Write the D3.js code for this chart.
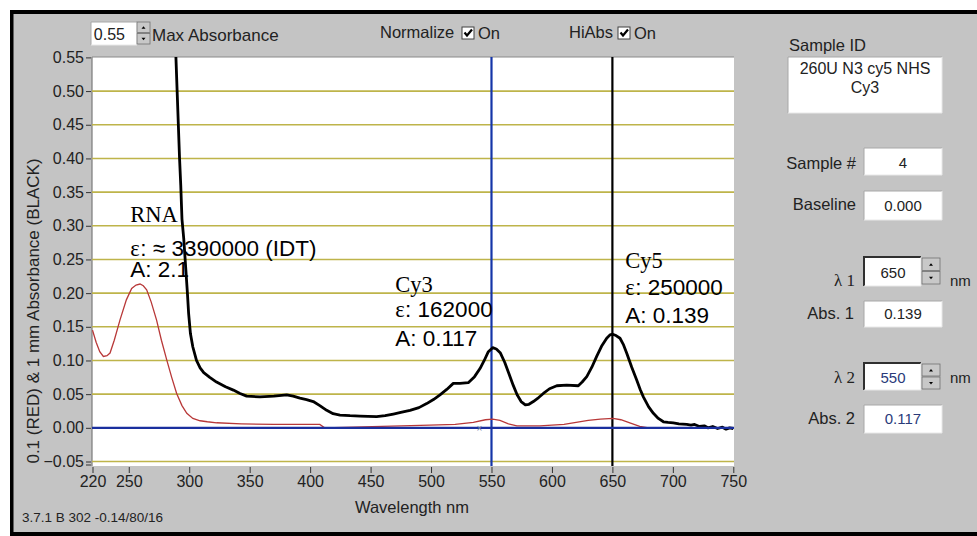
<!DOCTYPE html>
<html><head><meta charset="utf-8">
<script src="https://cdn.jsdelivr.net/npm/d3@7"></script>
<style>
html,body{margin:0;padding:0;background:#fff;}
</style></head>
<body>
<script>
// ---------- data ----------
const xTicks = [220,250,300,350,400,450,500,550,600,650,700,750];
const yTicks = [-0.05,0,0.05,0.10,0.15,0.20,0.25,0.30,0.35,0.40,0.45,0.50,0.55];
const gridValues = [-0.05,0.05,0.10,0.15,0.20,0.25,0.30,0.35,0.40,0.45,0.50];

// 1 mm absorbance (black)
const blackWl  = [288,289,290,291,292,293,294,295.5,297,298.5,299.5,301,303,306,309,312,317,322.6,330,336.5,342,347.5,358.5,370,380.6,386,391.6,397,402.6,408,413.7,419,424.7,433,441.3,448,455,462,468.8,475,482.6,490,496.4,502,507.4,513,518.4,524,530.8,536,540.5,544,547.4,551,554,557.4,561,564.3,568,571.2,574.5,578,581,584.6,589,592.9,598,604,612.2,621.8,625,628.8,633,637,641,645.3,648,650.2,653,656.3,659,661.8,666,670.1,673,675.6,680,683.9,688,692.2,696,700.4,705,711.5,715,718,722,726,729,733,737,741,744,747,750];
const blackAbs = [0.62,0.55,0.50,0.45,0.40,0.36,0.31,0.28,0.24,0.20,0.17,0.14,0.12,0.10,0.089,0.082,0.075,0.068,0.061,0.056,0.051,0.047,0.046,0.047,0.049,0.047,0.044,0.042,0.039,0.033,0.026,0.021,0.019,0.018,0.0175,0.017,0.0165,0.018,0.0205,0.023,0.026,0.030,0.036,0.042,0.049,0.057,0.066,0.066,0.067,0.076,0.088,0.100,0.113,0.119,0.117,0.111,0.097,0.081,0.063,0.049,0.039,0.034,0.035,0.039,0.045,0.051,0.058,0.0625,0.0635,0.0625,0.068,0.076,0.090,0.106,0.121,0.133,0.138,0.139,0.137,0.133,0.124,0.111,0.090,0.071,0.057,0.046,0.031,0.0215,0.014,0.009,0.008,0.0075,0.006,0.005,0.004,0.005,0.002,0.003,0.0,0.002,-0.001,0.001,-0.002,0.0,-0.001];

// 0.1 mm absorbance (red)
const redWl  = [220,223,226,229,232,234.5,238,242.7,248,252.4,256,259.3,262,264.8,268.5,273,277,281.4,285.5,289.6,294,298,303,309,315,322.7,343,370,390,408,412,499,520,535,545,551,557,564,571,590,610,620,630,640,650.5,657,665,672.6,680];
const redAbs = [0.145,0.127,0.113,0.106,0.107,0.111,0.13,0.160,0.190,0.207,0.212,0.2135,0.211,0.205,0.187,0.160,0.130,0.101,0.075,0.051,0.033,0.0215,0.014,0.0105,0.009,0.0075,0.006,0.005,0.005,0.005,0.0,0.004,0.005,0.008,0.012,0.013,0.011,0.006,0.003,0.003,0.005,0.008,0.011,0.013,0.014,0.012,0.007,0.002,0.0];

const cursorWl = [550, 650];
const annoNames = ["RNA","Cy3","Cy5"];
const annoEps   = ["≈ 3390000 (IDT)","162000","250000"];
const annoA     = ["A: 2.1","A: 0.117","A: 0.139"];
const annoWl    = [251.3, 470.3, 660.6];
const annoLevels = [[0.306,0.255,0.224],[0.202,0.164,0.121],[0.238,0.197,0.156]];

// ---------- layout ----------
const SANS = "Liberation Sans, Arial, sans-serif";
const SERIF = "Liberation Serif, Times New Roman, serif";
const W = 977, H = 536;
const svg = d3.select("body").append("svg").attr("width",W).attr("height",H).style("font-family",SANS);
const x = d3.scaleLinear().domain([220,750]).range([92.5,733.3]);
const y = d3.scaleLinear().domain([-0.05,0.55]).range([461.5,57.4]);
const plot = {x0:92, x1:734, y0:57, y1:466};

// frame
svg.append("rect").attr("width",W).attr("height",H).attr("fill","#fff");
svg.append("rect").attr("x",10).attr("y",10).attr("width",W-10).attr("height",H-10).attr("fill","#c4c4c4");
svg.append("rect").attr("x",10).attr("y",10).attr("width",W-10).attr("height",4).attr("fill","#000");
svg.append("rect").attr("x",10).attr("y",10).attr("width",3.5).attr("height",H-10).attr("fill","#000");
svg.append("rect").attr("x",10).attr("y",532).attr("width",W-10).attr("height",4).attr("fill","#000");

// plot area
svg.append("rect").attr("x",plot.x0).attr("y",plot.y0).attr("width",plot.x1-plot.x0).attr("height",plot.y1-plot.y0)
  .attr("fill","#fff");
svg.append("line").attr("x1",plot.x0).attr("x2",plot.x0).attr("y1",plot.y0).attr("y2",plot.y1).attr("stroke","#7a7a7a").attr("stroke-width",1.2);
svg.append("line").attr("x1",plot.x0).attr("x2",plot.x1).attr("y1",plot.y0).attr("y2",plot.y0).attr("stroke","#8a8a8a").attr("stroke-width",1);

svg.append("defs").append("clipPath").attr("id","clip").append("rect")
  .attr("x",plot.x0).attr("y",plot.y0).attr("width",plot.x1-plot.x0).attr("height",plot.y1-plot.y0);
const g = svg.append("g").attr("clip-path","url(#clip)");

// grid
g.selectAll(".grid").data(gridValues).enter().append("line")
  .attr("x1",plot.x0).attr("x2",plot.x1).attr("y1",d=>y(d)).attr("y2",d=>y(d))
  .attr("stroke","#beb44a").attr("stroke-width",1.6);

// cursors
g.selectAll(".cur").data(cursorWl).enter().append("line")
  .attr("x1",d=>x(d)).attr("x2",d=>x(d)).attr("y1",plot.y0).attr("y2",plot.y1)
  .attr("stroke",(d,i)=>i===0?"#1535a8":"#000").attr("stroke-width",2.2);

// curves
const line = d3.line().x(d=>x(d[0])).y(d=>y(d[1])).curve(d3.curveLinear);
g.append("path").datum(redWl.map((w,i)=>[w,redAbs[i]])).attr("d",line)
  .attr("fill","none").attr("stroke","#b83838").attr("stroke-width",1.3);
g.append("path").datum(blackWl.map((w,i)=>[w,blackAbs[i]])).attr("d",line)
  .attr("fill","none").attr("stroke","#000").attr("stroke-width",2.8).attr("stroke-linejoin","round");
// baseline
g.append("line").attr("x1",plot.x0).attr("x2",plot.x1).attr("y1",y(0)).attr("y2",y(0))
  .attr("stroke","#1a2f9e").attr("stroke-width",2.4);
// small cross marker
g.append("text").attr("x",x(540)).attr("y",y(0)+4).attr("text-anchor","middle")
  .attr("font-size",10).attr("fill","#7080a8").text("×");

// axes
const yAxis = d3.axisLeft(y).tickValues(yTicks).tickFormat(d3.format(".2f")).tickSize(5).tickPadding(2);
const ya = svg.append("g").attr("transform","translate(91,0)").call(yAxis);
ya.select(".domain").remove();
ya.selectAll("text").attr("font-size",16).attr("fill","#222").attr("font-family",SANS);
ya.selectAll("line").attr("stroke","#333");
svg.append("line").attr("x1",86).attr("x2",91).attr("y1",465).attr("y2",465).attr("stroke","#333");

const xAxis = d3.axisBottom(x).tickValues(xTicks).tickFormat(d3.format("d")).tickSize(6).tickPadding(3);
const xa = svg.append("g").attr("transform",`translate(0,${plot.y1+1})`).call(xAxis);
xa.select(".domain").remove();
xa.selectAll("text").attr("font-size",16).attr("fill","#222").attr("font-family",SANS);
xa.selectAll("line").attr("stroke","#333");

svg.append("text").attr("x",412).attr("y",513).attr("text-anchor","middle").attr("font-size",16.5).attr("fill","#222")
  .text("Wavelength nm");
svg.append("text").attr("transform","translate(39,311) rotate(-90)").attr("text-anchor","middle")
  .attr("font-size",17).attr("fill","#222").text("0.1 (RED) & 1 mm Absorbance (BLACK)");
svg.append("text").attr("x",22).attr("y",522).attr("font-size",13.5).attr("fill","#222")
  .text("3.7.1 B 302 -0.14/80/16");

// annotations
annoNames.forEach((name,i)=>{
  const ax = x(annoWl[i]), lv = annoLevels[i];
  svg.append("text").attr("x",ax).attr("y",y(lv[0])).attr("font-family",SERIF)
    .attr("font-size",22.5).attr("fill","#000").text(name);
  const e = svg.append("text").attr("x",ax).attr("y",y(lv[1])).attr("font-family",SERIF)
    .attr("font-size",22.5).attr("fill","#000").text("ε");
  const ew = e.node().getComputedTextLength();
  svg.append("text").attr("x",ax+ew+0.5).attr("y",y(lv[1])).attr("font-family",SANS)
    .attr("font-size",22.5).attr("fill","#000").text(": "+annoEps[i]);
  svg.append("text").attr("x",ax).attr("y",y(lv[2])).attr("font-family",SANS)
    .attr("font-size",22.5).attr("fill","#000").text(annoA[i]);
});

// ---------- controls ----------
function sunkenBox(x0,y0,w,h,deep){
  svg.append("rect").attr("x",x0).attr("y",y0).attr("width",w).attr("height",h).attr("fill","#fff");
  svg.append("path").attr("d",`M${x0},${y0+h}V${y0}H${x0+w}`).attr("fill","none")
    .attr("stroke",deep?"#303030":"#a8a8a8").attr("stroke-width",deep?2:1);
  svg.append("path").attr("d",`M${x0},${y0+h}H${x0+w}V${y0}`).attr("fill","none")
    .attr("stroke","#e8e8e8").attr("stroke-width",1);
}
function spinner(x0,y0,w,h){
  const hh = h/2;
  [0,1].forEach(i=>{
    svg.append("rect").attr("x",x0).attr("y",y0+i*hh).attr("width",w).attr("height",hh-1)
      .attr("fill","#c8c8c8").attr("stroke","#707070").attr("stroke-width",0.8);
    const cx = x0+w/2, cy = y0+i*hh+hh/2;
    const p = i===0?`M${cx-2},${cy+1}L${cx+2},${cy+1}L${cx},${cy-1.5}Z`:`M${cx-2},${cy-1.5}L${cx+2},${cy-1.5}L${cx},${cy+1}Z`;
    svg.append("path").attr("d",p).attr("fill","#000");
  });
}
function label(tx,ty,txt,anchor,size,color,family){
  return svg.append("text").attr("x",tx).attr("y",ty).attr("text-anchor",anchor||"start")
    .attr("font-size",size||16.5).attr("fill",color||"#222")
    .attr("font-family",family||SANS).text(txt);
}
function checkbox(x0,y0){
  svg.append("rect").attr("x",x0).attr("y",y0).attr("width",12).attr("height",12).attr("fill","#fff")
    .attr("stroke","#404040").attr("stroke-width",1);
  svg.append("path").attr("d",`M${x0+2.5},${y0+5.5}L${x0+5},${y0+8.5}L${x0+10},${y0+2.5}`)
    .attr("fill","none").attr("stroke","#000").attr("stroke-width",2.2);
}

// top bar
sunkenBox(91,22,46,23,false);
label(125,40,"0.55","end",16);
spinner(137,22,13,23);
label(152,41,"Max Absorbance","start",17);
label(380,38,"Normalize","start",16.5);
checkbox(462,27);
label(478,39,"On","start",16.5);
label(569,38,"HiAbs","start",16.5);
checkbox(618,27);
label(634,39,"On","start",16.5);

// right panel
label(789,51,"Sample ID","start",16.5);
sunkenBox(788,57,154,56,false);
label(865,74,"260U N3 cy5 NHS","middle",16);
label(865,93,"Cy3","middle",16);

label(856,169,"Sample #","end",16.5);
sunkenBox(864,148,78,27,false);
label(903,168,"4","middle",15);

label(856,210,"Baseline","end",16.5);
sunkenBox(864,191,78,29,false);
label(903,211,"0.000","middle",15);

label(855,286,"λ 1","end",17,"#222",SERIF);
sunkenBox(864,257,57,29,true);
label(893,278,"650","middle",15);
spinner(922,258,18,27);
label(950,286,"nm","start",15);

label(854,319,"Abs. 1","end",16.5);
sunkenBox(864,301,78,26,false);
label(903,319,"0.139","middle",15);

label(855,383,"λ 2","end",17,"#222",SERIF);
sunkenBox(864,363,57,27,true);
label(893,383,"550","middle",15,"#2a3a7a");
spinner(922,364,18,26);
label(950,383,"nm","start",15);

label(855,424,"Abs. 2","end",16.5);
sunkenBox(864,405,78,28,false);
label(903,424,"0.117","middle",15,"#2a3a7a");
</script>
</body></html>
